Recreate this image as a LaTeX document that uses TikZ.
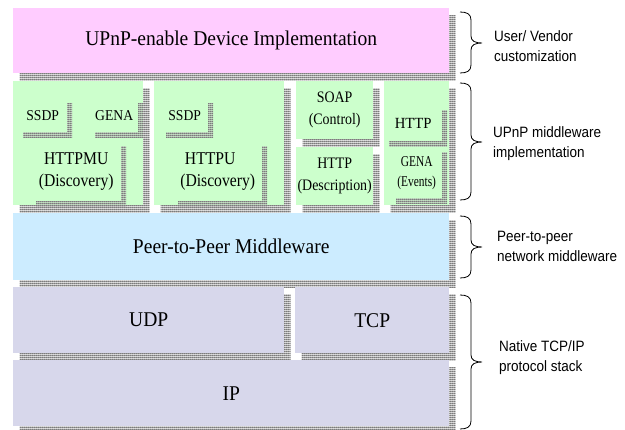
\documentclass[tikz,border=0pt]{standalone}
\usepackage{fontspec}
\usetikzlibrary{shadows,patterns}

% Typefaces: a Times-like serif for the layers, an Arial-like sans for the side notes
\newfontfamily\serifbig[FakeStretch=0.93]{Liberation Serif}
\newfontfamily\serifmid[FakeStretch=0.87]{Liberation Serif}
\newfontfamily\serifsmall[FakeStretch=0.91]{Liberation Serif}
\newfontfamily\serifhttp[FakeStretch=0.95]{Liberation Serif}
\newfontfamily\serifnarrow[FakeStretch=0.76]{Liberation Serif}
\newfontfamily\sidefont[FakeStretch=0.9]{Liberation Sans}

\definecolor{upnppink}{HTML}{FFCCFF}
\definecolor{midgreen}{HTML}{CCFFCC}
\definecolor{p2pblue}{HTML}{CCECFF}
\definecolor{netlilac}{HTML}{D7D7EB}
\definecolor{meshlight}{HTML}{BDBDBD}
\definecolor{meshdark}{HTML}{747474}

% Fine grey mesh used for the drop shadows
\pgfdeclarepatterninherentlycolored{shadowmesh}{\pgfpointorigin}{\pgfqpoint{2pt}{2pt}}{\pgfqpoint{2pt}{2pt}}{%
  \pgfsetfillcolor{meshlight}%
  \pgfpathrectangle{\pgfpointorigin}{\pgfqpoint{2pt}{2pt}}\pgfusepath{fill}%
  \pgfsetfillcolor{meshdark}%
  \pgfpathrectangle{\pgfpointorigin}{\pgfqpoint{2pt}{0.8pt}}\pgfusepath{fill}%
  \pgfpathrectangle{\pgfpointorigin}{\pgfqpoint{0.8pt}{2pt}}\pgfusepath{fill}%
}

% Curly brace on the right of a layer group: top, tip, bottom
\newcommand\layerbrace[3]{%
  \draw[bracepen] (460,#1) .. controls (467,#1) and (471,#1+2) .. (471,#1+8)
    -- (471,#2-7) .. controls (471,#2-2) and (475,#2) .. (482,#2)
    .. controls (475,#2) and (471,#2+2) .. (471,#2+7)
    -- (471,#3-8) .. controls (471,#3-2) and (467,#3) .. (460,#3);}

\begin{document}
\begin{tikzpicture}[x=1pt,y=-1pt,
  layer/.style={rectangle, inner sep=0pt, anchor=north west,
    general shadow={shadow xshift=6.5pt, shadow yshift=-7pt, pattern=shadowmesh}},
  part/.style={rectangle, inner sep=0pt, anchor=north west, fill=midgreen,
    general shadow={shadow xshift=5pt, shadow yshift=-5pt, pattern=shadowmesh}},
  bigtxt/.style={font=\serifbig\fontsize{21}{25}\selectfont},
  midtxt/.style={align=center, font=\serifmid\fontsize{18}{22}\selectfont},
  soaptxt/.style={align=center, font=\serifmid\fontsize{16}{22}\selectfont},
  smalltxt/.style={font=\serifsmall\fontsize{15}{18}\selectfont},
  httptxt/.style={font=\serifhttp\fontsize{15.5}{18}\selectfont},
  eventtxt/.style={align=center, font=\serifnarrow\fontsize{15}{20}\selectfont},
  sidetxt/.style={anchor=base west, align=left, inner sep=0pt,
    font=\sidefont\fontsize{15}{20.5}\selectfont},
  bracepen/.style={draw=black, line width=0.8pt}]

\useasboundingbox (0,0) rectangle (625,430);

% Application layer
\node[layer, fill=upnppink, minimum width=436pt, minimum height=65pt, bigtxt]
  (device) at (13,8) {UPnP-enable Device Implementation};

% UPnP middleware columns
\node[layer, fill=midgreen, minimum width=130pt, minimum height=124pt] (stackA) at (13,81) {};
\node[layer, fill=midgreen, minimum width=130pt, minimum height=124pt] (stackB) at (154,81) {};
\node[layer, fill=midgreen, minimum width=77pt, minimum height=58pt, soaptxt]
  (soap) at (296,81) {SOAP\\(Control)};
\node[layer, fill=midgreen, minimum width=77pt, minimum height=58pt, soaptxt]
  (httpdesc) at (296,147) {HTTP\\(Description)};
\node[layer, fill=midgreen, minimum width=65pt, minimum height=124pt] (stackD) at (384,81) {};

% Protocols inside the middleware columns
\node[part, minimum width=49pt, minimum height=34pt, smalltxt] (ssdpA) at (18,98) {SSDP};
\node[part, minimum width=48pt, minimum height=34pt, smalltxt] (genaA) at (90,98) {GENA};
\node[part, minimum width=90pt, minimum height=60pt, midtxt] (httpmu) at (31,141) {HTTPMU\\(Discovery)};
\node[part, minimum width=47pt, minimum height=34pt, smalltxt] (ssdpB) at (161,98) {SSDP};
\node[part, minimum width=89pt, minimum height=60pt, midtxt] (httpu) at (173,141) {HTTPU\hspace*{15pt}\\(Discovery)};
\node[part, minimum width=58pt, minimum height=36pt, httptxt] (httpev) at (384,105) {HTTP};
\node[part, minimum width=51pt, minimum height=51pt, eventtxt] (genaev) at (391,147) {GENA\\(Events)};

% Peer-to-peer middleware
\node[layer, fill=p2pblue, minimum width=436pt, minimum height=67pt, bigtxt]
  (peer) at (13,213) {Peer-to-Peer Middleware};

% Native TCP/IP stack
\node[layer, fill=netlilac, minimum width=271pt, minimum height=66pt, bigtxt] (udp) at (13,287) {UDP};
\node[layer, fill=netlilac, minimum width=154pt, minimum height=66pt, bigtxt] (tcp) at (295,287) {TCP};
\node[layer, fill=netlilac, minimum width=436pt, minimum height=66pt, bigtxt] (ip) at (13,360) {IP};

% Braces and their notes (each note is placed by the baseline of its last line)
\layerbrace{12}{43}{73}
\layerbrace{83}{142}{200}
\layerbrace{216}{247}{278}
\layerbrace{295}{362}{429}

\node[sidetxt] (noteA) at (494,62) {User/ Vendor\\customization};
\node[sidetxt] (noteB) at (493,158) {UPnP middleware\\implementation};
\node[sidetxt] (noteC) at (497,262) {Peer-to-peer\\network middleware};
\node[sidetxt] (noteD) at (499,372) {Native TCP/IP\\protocol stack};

\end{tikzpicture}
\end{document}
